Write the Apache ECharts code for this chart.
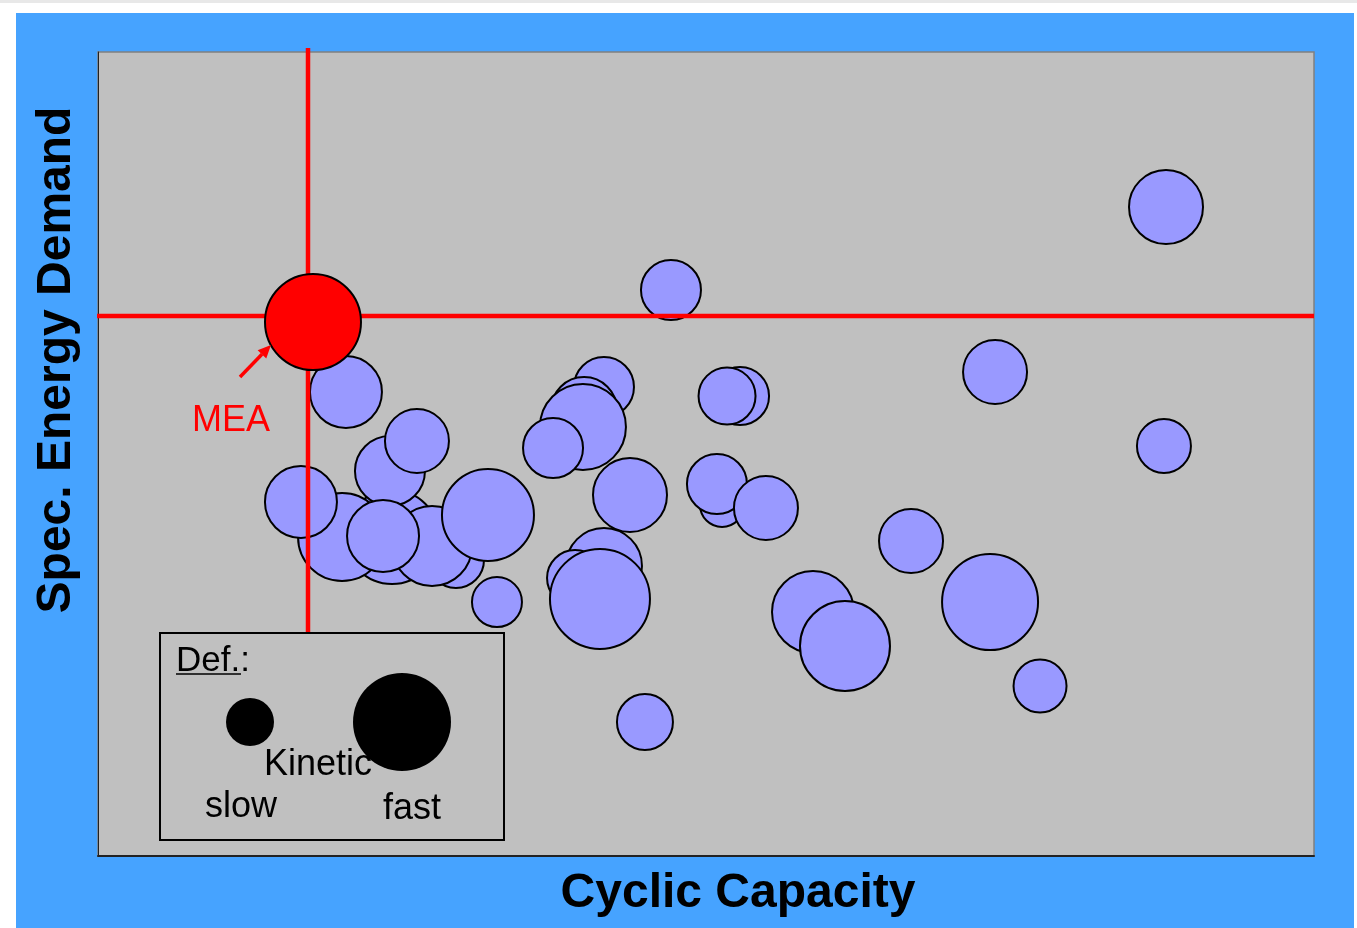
<!DOCTYPE html>
<html>
<head>
<meta charset="utf-8">
<script src="https://cdn.jsdelivr.net/npm/echarts@6/dist/echarts.min.js"></script>
<style>
  html, body { margin: 0; padding: 0; background: #ffffff; }
  #strip { position: absolute; left: 0; top: 0; width: 1357px; height: 3px; background: #e8e8e8; }
  #bg { position: absolute; left: 16px; top: 13px; width: 1338px; height: 915px; background: #46a3ff; }
  #chart { position: absolute; left: 0; top: 0; width: 1357px; height: 928px; }
</style>
</head>
<body>
<div id="strip"></div>
<div id="bg"></div>
<div id="chart"></div>
<script>
// Cyclic capacity (x), specific energy demand (y), kinetic (bubble diameter), back to front
const cyclicCapacity = [
  24.18, 20.07, 16.69, 29.44, 27.47, 24.01, 26.23, 23.44, 32.07, 32.81, 20.39,
  41.61, 39.97, 39.88, 37.42, 43.75, 41.61, 39.23, 41.28, 47.12, 44.98,
  52.80, 51.73, 51.32, 50.90, 54.93, 73.77, 66.86, 58.80, 61.43, 73.36, 77.47, 87.83, 87.66
];
const energyDemand = [
  39.68, 39.68, 44.03, 36.82, 38.56, 47.89, 51.62, 39.80, 42.41, 31.59, 57.71,
  58.33, 55.47, 53.36, 50.75, 44.90, 36.07, 34.58, 31.97, 70.40, 16.67,
  57.21, 57.21, 43.66, 46.27, 43.28, 60.20, 39.18, 30.35, 26.12, 31.59, 21.14, 80.72, 51.00
];
const kinetic = [
  94, 88, 72, 56, 80, 70, 64, 72, 92, 50, 72,
  60, 66, 86, 60, 74, 76, 56, 100, 60, 56,
  58, 57, 44, 60, 64, 64, 64, 82, 90, 96, 53, 74, 54
];
// MEA reference point
const meaCapacity = 17.68;
const meaEnergy = 66.42;
const meaKinetic = 96;
// MEA crosshair
const crossX = 17.27;
const crossXRange = [100.5, 27.74];
const crossY = 67.16;
const crossYRange = [-0.08, 100];

const chart = echarts.init(document.getElementById('chart'), null, { renderer: 'canvas' });
const FONT = '"Liberation Sans", Arial, Helvetica, sans-serif';

const blueData = cyclicCapacity.map((x, i) => [x, energyDemand[i], kinetic[i]]);

const option = {
  backgroundColor: 'transparent',
  animation: false,
  grid: {
    left: 98, top: 52, width: 1216, height: 804,
    show: true, backgroundColor: '#c0c0c0', borderColor: '#808080', borderWidth: 1.5
  },
  xAxis: {
    type: 'value', min: 0, max: 100,
    axisLine: { show: true, onZero: false, lineStyle: { color: '#222', width: 2 } },
    axisTick: { show: false }, axisLabel: { show: false }, splitLine: { show: false }
  },
  yAxis: {
    type: 'value', min: 0, max: 100,
    axisLine: { show: true, onZero: false, lineStyle: { color: '#222', width: 1 } },
    axisTick: { show: false }, axisLabel: { show: false }, splitLine: { show: false }
  },
  series: [
    {
      type: 'scatter', z: 2, data: blueData,
      symbolSize: v => v[2],
      itemStyle: { color: '#9999ff', borderColor: '#000', borderWidth: 2, opacity: 1 },
      emphasis: { disabled: true }
    },
    {
      type: 'line', z: 3, clip: false, symbol: 'none', silent: true,
      data: [[crossX, crossXRange[0]], [crossX, crossXRange[1]]],
      lineStyle: { color: '#ff0000', width: 4.5 }
    },
    {
      type: 'line', z: 3, clip: false, symbol: 'none', silent: true,
      data: [[crossYRange[0], crossY], [crossYRange[1], crossY]],
      lineStyle: { color: '#ff0000', width: 4.5 }
    },
    {
      type: 'scatter', z: 4, data: [[meaCapacity, meaEnergy, meaKinetic]],
      symbolSize: v => v[2],
      itemStyle: { color: '#ff0000', borderColor: '#000', borderWidth: 2, opacity: 1 },
      label: {
        show: true, formatter: 'MEA', position: 'inside', offset: [-82, 99],
        color: '#ff0000', fontSize: 36, fontFamily: FONT
      },
      emphasis: { disabled: true }
    }
  ]
};
chart.setOption(option);

const p = chart.convertToPixel({ seriesIndex: 3 }, [meaCapacity, meaEnergy]);
const tip = [p[0] - 42, p[1] + 23];
const tail = [p[0] - 73, p[1] + 55];
const ang = Math.atan2(tip[1] - tail[1], tip[0] - tail[0]);
const hl = 13, hw = 6;
const base = [tip[0] - hl * Math.cos(ang), tip[1] - hl * Math.sin(ang)];
const nx = -Math.sin(ang), ny = Math.cos(ang);

chart.setOption({
  graphic: [
    { type: 'line', z: 20, shape: { x1: tail[0], y1: tail[1], x2: base[0], y2: base[1] },
      style: { stroke: '#ff0000', lineWidth: 3.5 } },
    { type: 'polygon', z: 20, shape: { points: [tip, [base[0] + nx * hw, base[1] + ny * hw], [base[0] - nx * hw, base[1] - ny * hw]] },
      style: { fill: '#ff0000' } },
    // Legend box
    { type: 'rect', z: 30, shape: { x: 160, y: 633, width: 344, height: 207 },
      style: { fill: '#c0c0c0', stroke: '#000', lineWidth: 2 } },
    { type: 'text', z: 31, x: 176, y: 661,
      style: { text: 'Def.:', font: '35px ' + FONT, fill: '#000', textAlign: 'left', textVerticalAlign: 'middle' } },
    { type: 'line', z: 31, shape: { x1: 176, y1: 674, x2: 241, y2: 674 }, style: { stroke: '#000', lineWidth: 1.5 } },
    { type: 'circle', z: 31, shape: { cx: 250, cy: 722, r: 24 }, style: { fill: '#000' } },
    { type: 'circle', z: 31, shape: { cx: 402, cy: 722, r: 49 }, style: { fill: '#000' } },
    { type: 'text', z: 32, x: 264, y: 765,
      style: { text: 'Kinetic', font: '36px ' + FONT, fill: '#000', textAlign: 'left', textVerticalAlign: 'middle' } },
    { type: 'text', z: 32, x: 205, y: 807,
      style: { text: 'slow', font: '36px ' + FONT, fill: '#000', textAlign: 'left', textVerticalAlign: 'middle' } },
    { type: 'text', z: 32, x: 383, y: 809,
      style: { text: 'fast', font: '36px ' + FONT, fill: '#000', textAlign: 'left', textVerticalAlign: 'middle' } },
    // Axis titles
    { type: 'text', z: 32, x: 738, y: 894,
      style: { text: 'Cyclic Capacity', font: 'bold 48px ' + FONT, fill: '#000', textAlign: 'center', textVerticalAlign: 'middle' } },
    { type: 'text', z: 32, x: 57, y: 360, rotation: Math.PI / 2,
      style: { text: 'Spec. Energy Demand', font: 'bold 48px ' + FONT, fill: '#000', textAlign: 'center', textVerticalAlign: 'middle' } }
  ]
});
</script>
</body>
</html>
